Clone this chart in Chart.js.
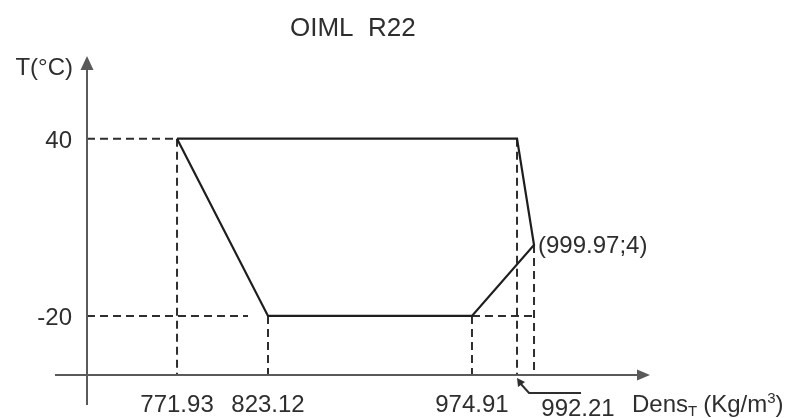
<!DOCTYPE html>
<html>
<head>
<meta charset="utf-8">
<script src="https://cdn.jsdelivr.net/npm/chart.js@4/dist/chart.umd.min.js"></script>
<style>
  html, body { margin: 0; padding: 0; background: #fff; }
  canvas { display: block; }
</style>
</head>
<body>
<canvas id="c" width="791" height="418"></canvas>
<script>
const chartTitle = 'OIML  R22';
const yAxisTitle = 'T(°C)';

// Corners of the admissible region, traced from the upper-left corner
const cornerDensity = [771.93, 992.21, 999.97, 974.91, 823.12, 771.93];
const cornerTemp    = [40, 40, 4, -20, -20, 40];

// Labelled densities under the x axis (kg/m³) and labelled temperatures (°C)
const densityTicks = [771.93, 823.12, 974.91];
const leaderTick = 992.21;
const tempTicks = [40, -20];
const pointNote = { density: 999.97, temp: 4 };

const INK = '#2e2e2e';
const AXIS = '#5a5a5a';
const FONT = '24px "Liberation Sans", Arial, sans-serif';
const TITLE_FONT = '26px "Liberation Sans", Arial, sans-serif';
const SMALL_FONT = '15px "Liberation Sans", Arial, sans-serif';

// Density axis drawn "not to scale": piecewise-linear between stops
class SchematicScale extends Chart.LinearScale {
  static id = 'schematic';
  static defaults = Chart.LinearScale.defaults;
  _toDecimal(v) {
    const s = this.options.stops;
    let i = 0;
    while (i < s.length - 2 && v > s[i + 1][0]) i++;
    const [v0, f0] = s[i], [v1, f1] = s[i + 1];
    return f0 + (v - v0) / (v1 - v0) * (f1 - f0);
  }
  getPixelForValue(value) {
    return this.getPixelForDecimal(this._toDecimal(value));
  }
  getValueForPixel(pixel) {
    const f = this.getDecimalForPixel(pixel);
    const s = this.options.stops;
    let i = 0;
    while (i < s.length - 2 && f > s[i + 1][1]) i++;
    const [v0, f0] = s[i], [v1, f1] = s[i + 1];
    return v0 + (f - f0) / (f1 - f0) * (v1 - v0);
  }
}
Chart.register(SchematicScale);

function line(ctx, pts, dash) {
  ctx.save();
  ctx.setLineDash(dash || []);
  ctx.beginPath();
  ctx.moveTo(pts[0][0], pts[0][1]);
  for (let i = 1; i < pts.length; i++) ctx.lineTo(pts[i][0], pts[i][1]);
  ctx.stroke();
  ctx.restore();
}
function tri(ctx, a, b, c) {
  ctx.beginPath();
  ctx.moveTo(a[0], a[1]); ctx.lineTo(b[0], b[1]); ctx.lineTo(c[0], c[1]);
  ctx.closePath(); ctx.fill();
}

// Dashed reference lines from the corners to both axes, plus axes and labels
const guides = {
  id: 'guides',
  beforeDatasetsDraw(chart) {
    const { ctx, scales: { x, y } } = chart;
    const X = v => x.getPixelForValue(v), Y = v => y.getPixelForValue(v);
    const dash = [8, 5];
    ctx.save();
    ctx.strokeStyle = INK;
    ctx.lineWidth = 2;
    // verticals down to the density axis
    for (let i = 0; i < cornerDensity.length - 1; i++) {
      line(ctx, [[X(cornerDensity[i]), Y(cornerTemp[i])], [X(cornerDensity[i]), y.bottom]], dash);
    }
    // horizontals from the temperature axis
    const tMax = Math.max(...cornerTemp), tMin = Math.min(...cornerTemp);
    line(ctx, [[x.left, Y(tMax)], [X(cornerDensity[0]), Y(tMax)]], dash);
    line(ctx, [[x.left, Y(tMin)], [X(cornerDensity[4]) - 20, Y(tMin)]], dash);
    line(ctx, [[X(cornerDensity[3]), Y(tMin)], [X(pointNote.density), Y(tMin)]], dash);
    ctx.restore();
  },
  afterDraw(chart) {
    const { ctx, scales: { x, y } } = chart;
    const X = v => x.getPixelForValue(v), Y = v => y.getPixelForValue(v);
    ctx.save();
    // axes with arrowheads
    ctx.strokeStyle = AXIS; ctx.fillStyle = AXIS; ctx.lineWidth = 2;
    line(ctx, [[x.left, y.bottom + 30], [x.left, y.top + 14]]);
    tri(ctx, [x.left, y.top + 6], [x.left - 6.5, y.top + 20], [x.left + 6.5, y.top + 20]);
    line(ctx, [[x.left - 32, y.bottom], [x.right - 8, y.bottom]]);
    tri(ctx, [x.right, y.bottom], [x.right - 13, y.bottom - 5.5], [x.right - 13, y.bottom + 5.5]);

    ctx.fillStyle = INK;
    // title
    ctx.font = TITLE_FONT;
    ctx.textAlign = 'left'; ctx.textBaseline = 'alphabetic';
    ctx.fillText(chartTitle, 290, 36);
    ctx.font = FONT;
    // y axis title and tick labels
    ctx.textAlign = 'right';
    ctx.fillText(yAxisTitle, x.left - 14, 75);
    tempTicks.forEach(t => ctx.fillText(String(t), x.left - 15, Y(t) + 9));
    // density tick labels
    ctx.textAlign = 'center';
    densityTicks.forEach(d => ctx.fillText(d.toFixed(2), X(d), 412));
    // leader to the 992.21 guide
    const lx = X(leaderTick);
    ctx.strokeStyle = INK; ctx.lineWidth = 2;
    line(ctx, [[lx + 64, 393], [lx + 12, 393], [lx + 3, 383]]);
    ctx.fillStyle = INK;
    tri(ctx, [lx, y.bottom + 3], [lx + 1, y.bottom + 12], [lx + 8, y.bottom + 7]);
    ctx.fillText(leaderTick.toFixed(2), lx + 61, 416);
    // corner annotation
    ctx.textAlign = 'left';
    ctx.fillText('(' + pointNote.density.toFixed(2) + ';' + pointNote.temp + ')', X(pointNote.density) + 4, Y(pointNote.temp) + 8);
    // density axis title with subscript and superscript
    let cx = 632;
    ctx.fillText('Dens', cx, 412); cx += ctx.measureText('Dens').width;
    ctx.font = SMALL_FONT;
    ctx.fillText('T', cx, 416); cx += ctx.measureText('T').width + 6;
    ctx.font = FONT;
    ctx.fillText('(Kg/m', cx, 412); cx += ctx.measureText('(Kg/m').width;
    ctx.font = SMALL_FONT;
    ctx.fillText('3', cx, 403); cx += ctx.measureText('3').width;
    ctx.font = FONT;
    ctx.fillText(')', cx, 412);
    ctx.restore();
  }
};

new Chart(document.getElementById('c'), {
  type: 'scatter',
  data: {
    datasets: [{
      data: cornerDensity.map((d, i) => ({ x: d, y: cornerTemp[i] })),
      showLine: true,
      borderColor: '#1e1e1e',
      borderWidth: 2.2,
      pointRadius: 0,
      fill: false,
      tension: 0
    }]
  },
  options: {
    responsive: false,
    animation: false,
    events: [],
    layout: { padding: { left: 87, right: 141, top: 50, bottom: 43 } },
    plugins: { legend: { display: false }, tooltip: { enabled: false }, title: { display: false } },
    scales: {
      x: {
        type: 'schematic', display: false, min: 720, max: 1053,
        stops: [[720, 0], [771.93, 0.1599], [823.12, 0.3215], [974.91, 0.6838],
                [992.21, 0.7638], [999.97, 0.7940], [1053, 1]]
      },
      y: { type: 'linear', display: false, min: -40, max: 70 }
    }
  },
  plugins: [guides]
});
</script>
</body>
</html>
